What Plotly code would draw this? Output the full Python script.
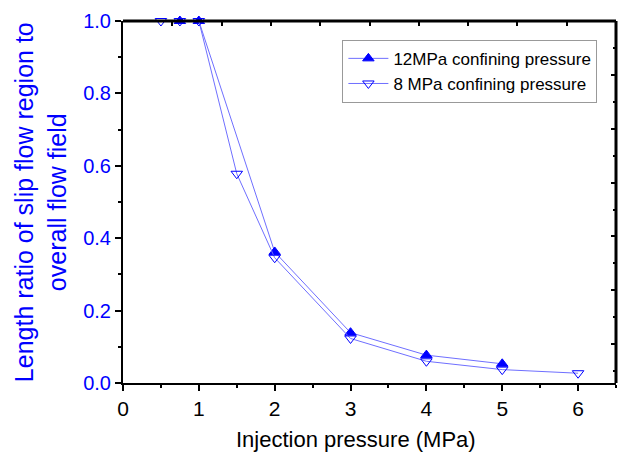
import plotly.graph_objects as go

x12 = [0.75, 1, 2, 3, 4, 5]
y12 = [1.0, 1.0, 0.362, 0.139, 0.077, 0.053]
x8 = [0.5, 0.75, 1, 1.5, 2, 3, 4, 5, 6]
y8 = [1.0, 1.0, 1.0, 0.578, 0.346, 0.123, 0.060, 0.037, 0.027]

name12 = "12MPa confining pressure"
name8 = "8 MPa confining pressure"
xtitle = "Injection pressure (MPa)"
ytitle = "Length ratio of slip flow region to<br>overall flow field"

FONT = "Liberation Sans, Arial, sans-serif"
LINE = "#6f6fff"
BLUE = "#0000ff"

fig = go.Figure()
fig.add_trace(go.Scatter(
    x=x12, y=y12, name=name12, mode="lines+markers",
    line=dict(color=LINE, width=1),
    marker=dict(symbol="triangle-up", size=10, color=BLUE, line=dict(color=BLUE, width=1)),
    cliponaxis=False))
fig.add_trace(go.Scatter(
    x=x8, y=y8, name=name8, mode="lines+markers",
    line=dict(color=LINE, width=1),
    marker=dict(symbol="triangle-down-open", size=10, color=BLUE, line=dict(color=BLUE, width=1)),
    cliponaxis=False))
# invisible trace so the frame tick axes (top / right) get drawn
fig.add_trace(go.Scatter(x=[5], y=[3], xaxis="x2", yaxis="y2", mode="markers",
                         marker=dict(opacity=0), showlegend=False, hoverinfo="skip"))

frame = dict(color="black", width=3)

fig.update_layout(
    width=624, height=454,
    margin=dict(l=123, r=8, t=21, b=71),
    paper_bgcolor="white", plot_bgcolor="white",
    font=dict(family=FONT, size=20, color="black"),
    showlegend=True,
    legend=dict(x=0.445, y=0.948, xanchor="left", yanchor="top",
                bordercolor="#999999", borderwidth=1, bgcolor="white",
                font=dict(size=17, family=FONT), tracegroupgap=0,
                itemwidth=40),
    xaxis=dict(range=[0, 6.5], dtick=1, tick0=0, showgrid=False, zeroline=False,
               showline=True, linecolor="black", linewidth=2,
               ticks="outside", ticklen=6, tickwidth=2, tickcolor="black",
               minor=dict(dtick=0.5, ticks="outside", ticklen=3, tickwidth=1.5, tickcolor="black"),
               tickfont=dict(size=21, color="black", family=FONT)),
    yaxis=dict(range=[0, 1.0], dtick=0.2, tick0=0, showgrid=False, zeroline=False,
               showline=True, linecolor="black", linewidth=2,
               ticks="outside", ticklen=6, tickwidth=2, tickcolor="black",
               tickformat=".1f",
               minor=dict(dtick=0.1, ticks="outside", ticklen=3, tickwidth=1.5, tickcolor="black"),
               tickfont=dict(size=20, color=BLUE, family=FONT)),
    xaxis2=dict(overlaying="x", side="top", range=[0, 10], dtick=1, showgrid=False, zeroline=False,
                showline=False, ticks="inside", ticklen=5, tickwidth=2,
                tickcolor="black", showticklabels=False, anchor="y2"),
    yaxis2=dict(overlaying="y", side="right", range=[-0.72, 6], dtick=1, tick0=0, showgrid=False, zeroline=False,
                showline=False, ticks="inside", ticklen=5, tickwidth=2,
                tickcolor="black", showticklabels=False, anchor="x2",
                minor=dict(dtick=0.5, tick0=0, ticks="inside", ticklen=3, tickwidth=1.5, tickcolor="black")),
    shapes=[
        dict(type="line", xref="paper", yref="paper", x0=0, x1=1, y0=1, y1=1, line=frame, layer="above"),
        dict(type="line", xref="paper", yref="paper", x0=1, x1=1, y0=0, y1=1, line=frame, layer="above"),
    ],
    annotations=[
        dict(text=xtitle, xref="paper", yref="paper", x=0.472, y=-0.155,
             xanchor="center", yanchor="middle", showarrow=False,
             font=dict(size=22, color="black", family=FONT)),
        dict(text=ytitle, xref="paper", yref="paper", x=-0.168, y=0.5,
             xanchor="center", yanchor="middle", showarrow=False, textangle=-90,
             font=dict(size=25, color=BLUE, family=FONT)),
    ],
)

fig.write_html("out.html")
